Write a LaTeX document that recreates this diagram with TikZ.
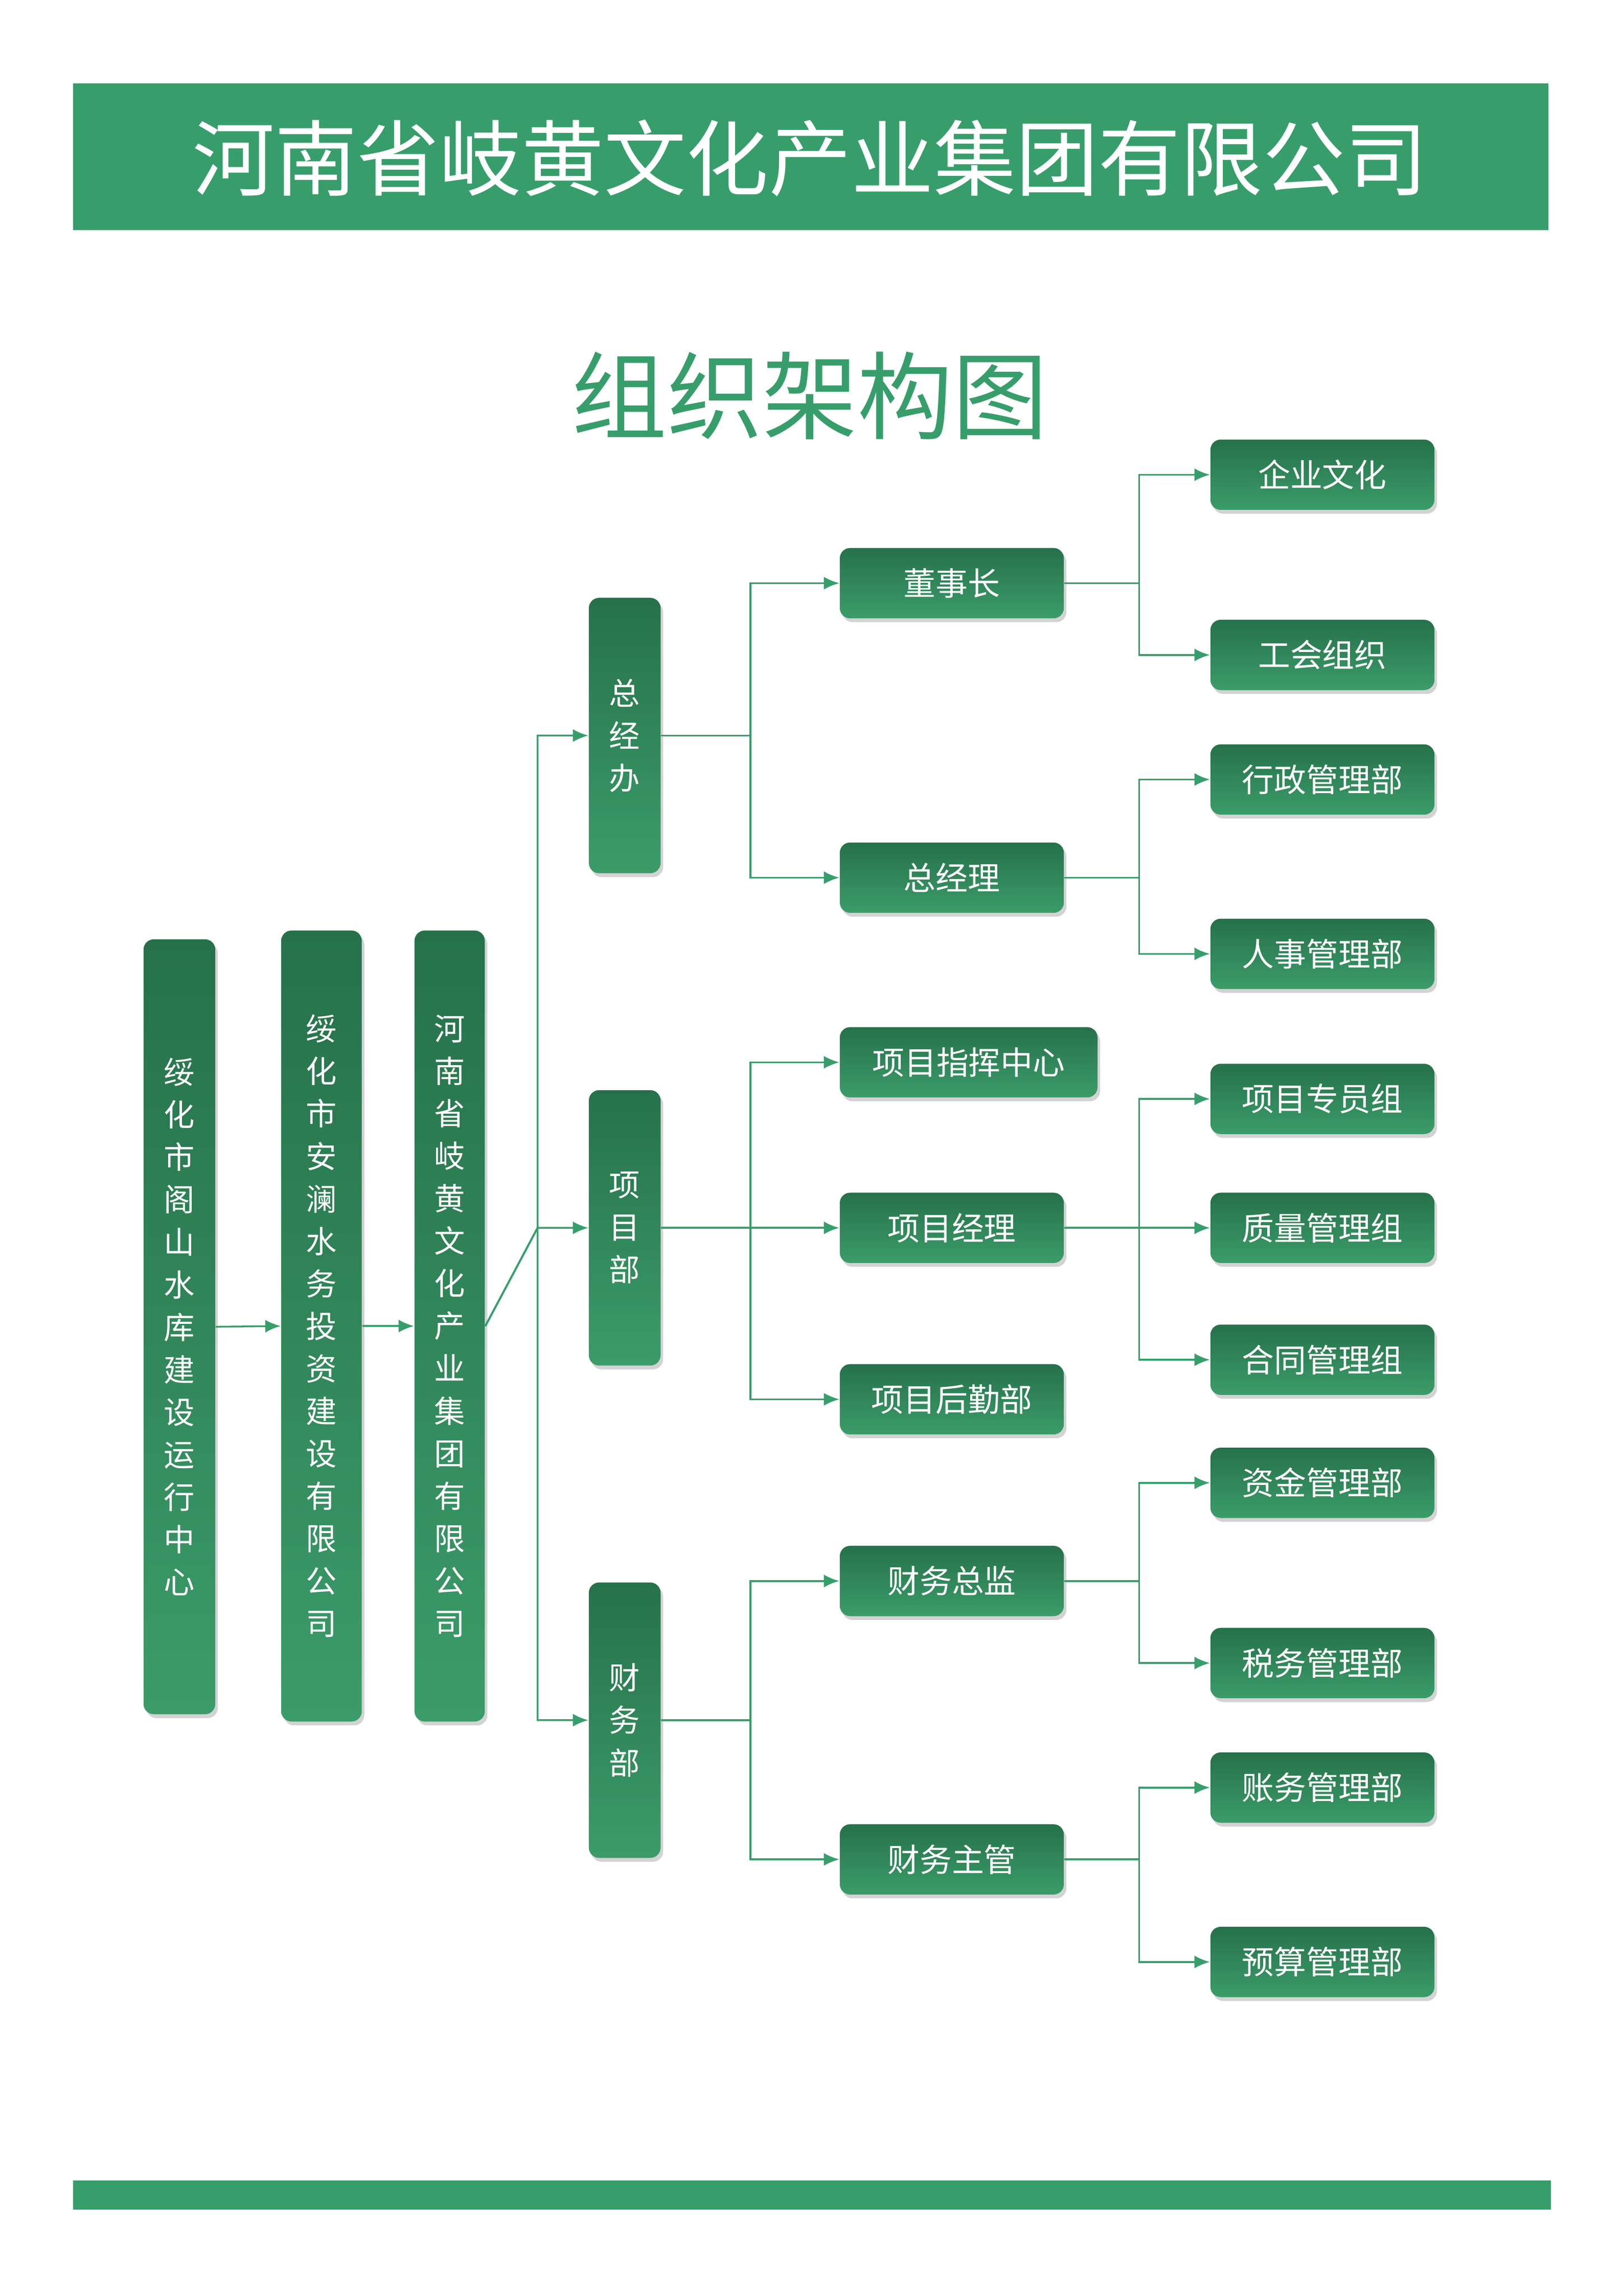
\documentclass[tikz,border=0pt]{standalone}
\usepackage{fontspec}
\setmainfont{Noto Sans CJK SC}
\usetikzlibrary{arrows.meta,shadows}
\definecolor{gbar}{HTML}{379E6B}
\definecolor{gtop}{HTML}{26714A}
\definecolor{gbot}{HTML}{3B9C69}
\tikzset{
  box/.style={rounded corners=4pt, top color=gtop, bottom color=gbot, draw=none,
    text=white, drop shadow={opacity=0.35, shadow xshift=1pt, shadow yshift=-1.5pt}},
  vbox/.style={box, align=center, font=\fontsize{12}{16.5}\selectfont},
  hbox/.style={box, anchor=west, minimum width=3.06cm, minimum height=0.96cm,
    font=\fontsize{12.5}{14}\selectfont},
  arr/.style={draw=gbar, line width=0.7pt, -{Latex[length=6pt,width=5pt]}}
}
\begin{document}
\begin{tikzpicture}[x=0.02cm, y=-0.02cm]
    \useasboundingbox (0,0) rectangle (1108,1567);
    % banner and title
    \fill[gbar] (50,57) rectangle (1057,157);
    \node (title) [text=white, font=\fontsize{32}{36}\selectfont] at (553,108) {河南省岐黄文化产业集团有限公司};
    \node (sub) [text=gbar, font=\fontsize{37}{40}\selectfont] at (553,270) {组织架构图};
    \fill[gbar] (50,1488) rectangle (1059,1508);

    % left column
    \node (gs) [vbox, minimum width=0.98cm, minimum height=10.58cm] at (122.5,905.5)
        {绥\\化\\市\\阁\\山\\水\\库\\建\\设\\运\\行\\中\\心};
    \node (al) [vbox, minimum width=1.1cm, minimum height=10.8cm] at (219.5,905)
        {绥\\化\\市\\安\\澜\\水\\务\\投\\资\\建\\设\\有\\限\\公\\司};
    \node (hn) [vbox, minimum width=0.96cm, minimum height=10.8cm] at (307,905)
        {河\\南\\省\\岐\\黄\\文\\化\\产\\业\\集\\团\\有\\限\\公\\司};
    \draw[arr] (gs.east) -- (al.west);
    \draw[arr] (al.east) -- (hn.west);

    % departments
    \node (zjb) [vbox, minimum width=0.98cm, minimum height=3.76cm] at (426.5,502) {总\\经\\办};
    \node (xmb) [vbox, minimum width=0.98cm, minimum height=3.76cm] at (426.5,838) {项\\目\\部};
    \node (cwb) [vbox, minimum width=0.98cm, minimum height=3.76cm] at (426.5,1174) {财\\务\\部};
    \coordinate (trunk) at (367,838);
    \foreach \d in {zjb,xmb,cwb}
        \draw[arr] (hn.east) -- (trunk) |- (\d.west);

    % third level
    \node (dsz) [hbox] at (573,398) {董事长};
    \node (zjl) [hbox] at (573,599) {总经理};
    \node (zhzx) [hbox, minimum width=3.52cm] at (573,725) {项目指挥中心};
    \node (xmjl) [hbox] at (573,838) {项目经理};
    \node (hqb) [hbox] at (573,955) {项目后勤部};
    \node (cwzj) [hbox] at (573,1079) {财务总监};
    \node (cwzg) [hbox] at (573,1269) {财务主管};
    \foreach \d/\c in {zjb/dsz,zjb/zjl,xmb/zhzx,xmb/xmjl,xmb/hqb,cwb/cwzj,cwb/cwzg}
        \draw[arr] (\d.east) -- ++(61,0) |- (\c.west);

    % fourth level
    \node (qywh) [hbox] at (826,324) {企业文化};
    \node (ghzz) [hbox] at (826,447) {工会组织};
    \node (xzgl) [hbox] at (826,532) {行政管理部};
    \node (rsgl) [hbox] at (826,651) {人事管理部};
    \node (zyz) [hbox] at (826,750) {项目专员组};
    \node (zlz) [hbox] at (826,838) {质量管理组};
    \node (htz) [hbox] at (826,928) {合同管理组};
    \node (zjgl) [hbox] at (826,1012) {资金管理部};
    \node (swgl) [hbox] at (826,1135) {税务管理部};
    \node (zwgl) [hbox] at (826,1220) {账务管理部};
    \node (ysgl) [hbox] at (826,1339) {预算管理部};
    \foreach \p/\c in {dsz/qywh,dsz/ghzz,zjl/xzgl,zjl/rsgl,xmjl/zyz,xmjl/zlz,xmjl/htz,
                       cwzj/zjgl,cwzj/swgl,cwzg/zwgl,cwzg/ysgl}
        \draw[arr] (\p.east) -- ++(51,0) |- (\c.west);
\end{tikzpicture}
\end{document}
